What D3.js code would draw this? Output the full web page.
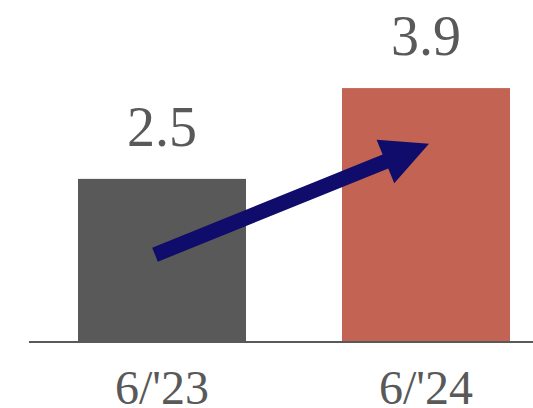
<!DOCTYPE html>
<html>
<head>
<meta charset="utf-8">
<script src="https://cdn.jsdelivr.net/npm/d3@7"></script>
<style>
  html, body { margin: 0; padding: 0; background: #fff; }
  svg text { font-family: "Liberation Serif", "DejaVu Serif", serif; }
</style>
</head>
<body>
<div id="chart"></div>
<script>
const width = 533;
const height = 408;

// data
const categories = ["6/'23", "6/'24"];
const values = [2.5, 3.9];
const barColors = ["#595959", "#C26353"];
// arrow annotation, in data terms: [value at tail, value at tip]
const arrowValues = [1.33, 3.04];

const svg = d3.select("#chart")
    .append("svg")
    .attr("width", width)
    .attr("height", height);

const x = d3.scaleBand()
    .domain(categories)
    .range([30, 558])
    .paddingInner(0.3636)
    .paddingOuter(0.1818);

const y = d3.scaleLinear()
    .domain([0, 4])
    .range([341, 81.6]);

// bars
svg.selectAll("rect.bar")
    .data(values)
    .enter()
    .append("rect")
    .attr("class", "bar")
    .attr("x", (d, i) => x(categories[i]))
    .attr("y", d => y(d))
    .attr("width", x.bandwidth())
    .attr("height", d => y(0) - y(d))
    .attr("fill", (d, i) => barColors[i]);

// baseline
svg.append("line")
    .attr("x1", 29)
    .attr("x2", width)
    .attr("y1", y(0) + 1)
    .attr("y2", y(0) + 1)
    .attr("stroke", "#595959")
    .attr("stroke-width", 2);

// value labels
svg.selectAll("text.value")
    .data(values)
    .enter()
    .append("text")
    .attr("class", "value")
    .attr("x", (d, i) => x(categories[i]) + x.bandwidth() / 2)
    .attr("y", d => y(d) - 33)
    .attr("text-anchor", "middle")
    .attr("font-size", 56)
    .attr("fill", "#595959")
    .text(d => d.toFixed(1));

// category labels
svg.selectAll("text.cat")
    .data(categories)
    .enter()
    .append("text")
    .attr("class", "cat")
    .attr("x", d => x(d) + x.bandwidth() / 2)
    .attr("y", 404)
    .attr("text-anchor", "middle")
    .attr("font-size", 48)
    .attr("fill", "#595959")
    .text(d => d);

// arrow
const x0 = x(categories[0]) + x.bandwidth() / 2 - 7;
const y0 = y(arrowValues[0]);
const x1 = x(categories[1]) + x.bandwidth() / 2 + 3;
const y1 = y(arrowValues[1]);
const ang = Math.atan2(y1 - y0, x1 - x0);
const len = Math.hypot(x1 - x0, y1 - y0);
const shaftW = 15, headL = 47, headW = 47;

const pts = [
    [0, -shaftW / 2],
    [len - headL, -shaftW / 2],
    [len - headL, -headW / 2],
    [len, 0],
    [len - headL, headW / 2],
    [len - headL, shaftW / 2],
    [0, shaftW / 2]
].map(([u, v]) => [
    x0 + u * Math.cos(ang) - v * Math.sin(ang),
    y0 + u * Math.sin(ang) + v * Math.cos(ang)
]);

svg.append("path")
    .attr("d", d3.line()(pts) + "Z")
    .attr("fill", "#0F0C6B");
</script>
</body>
</html>
